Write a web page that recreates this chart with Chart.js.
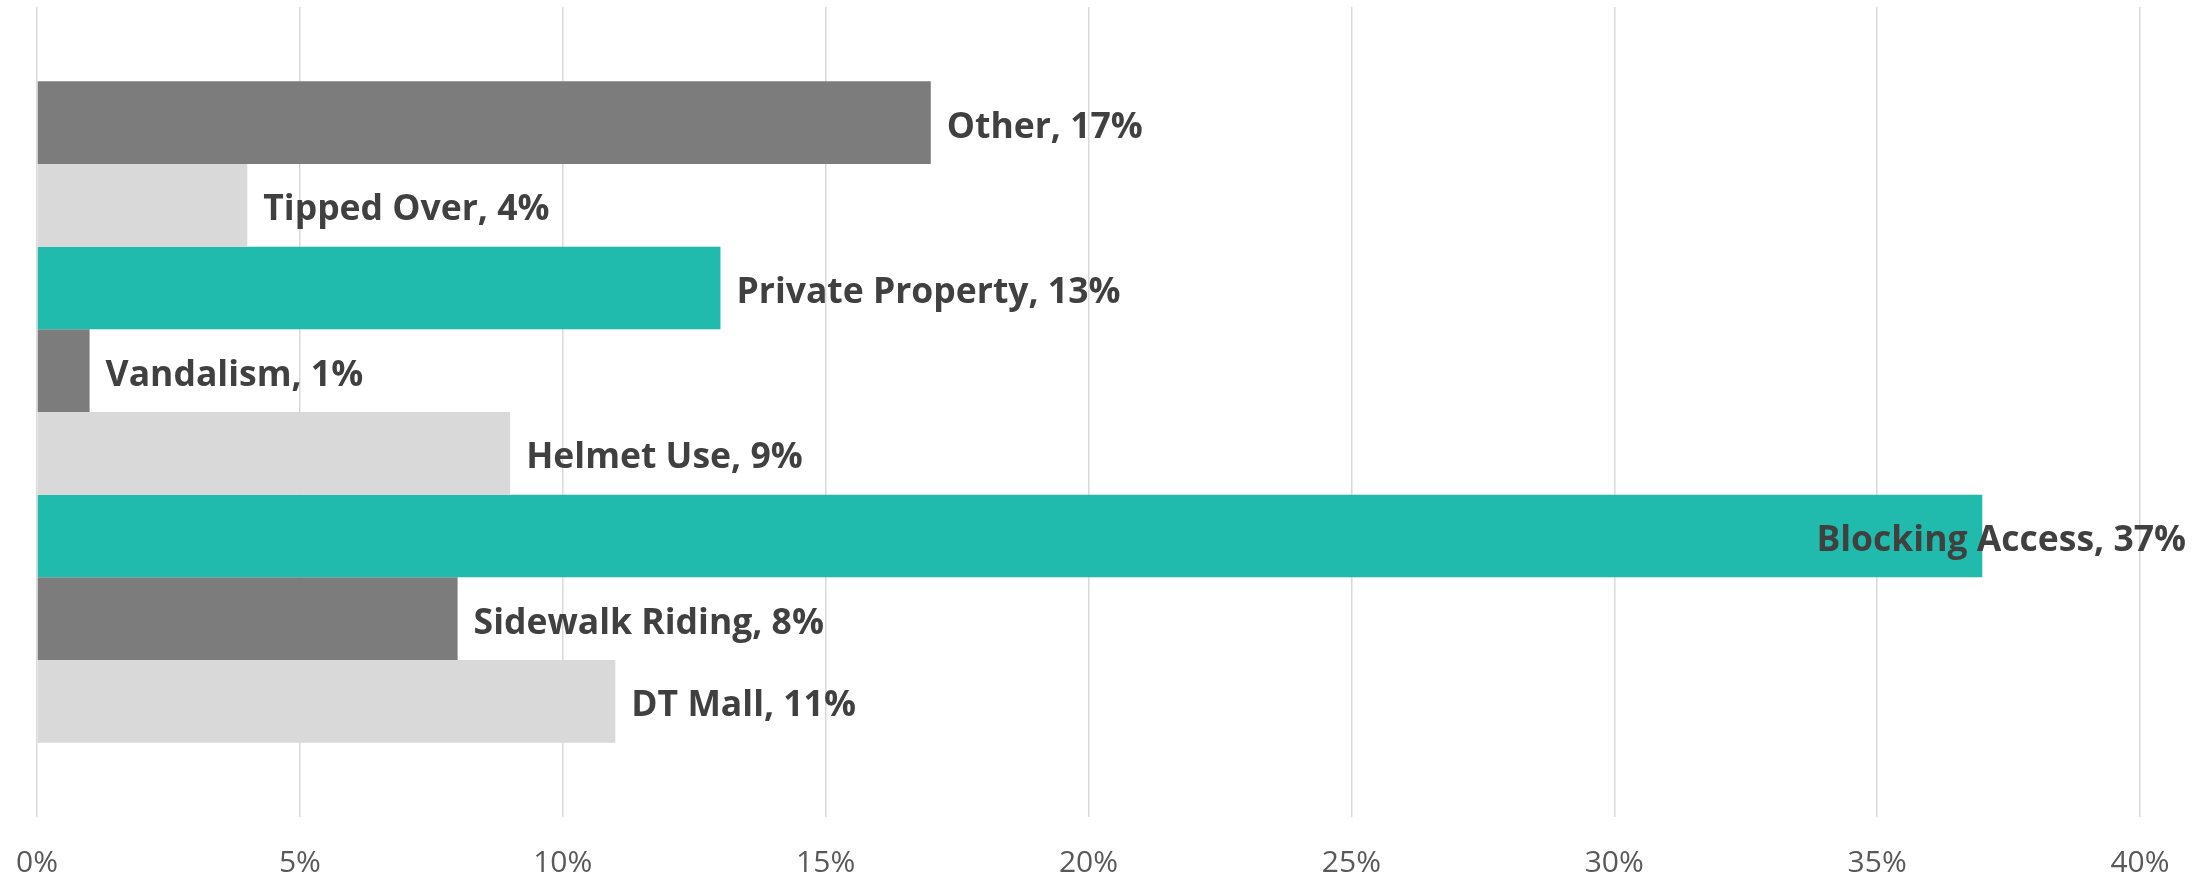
<!DOCTYPE html>
<html>
<head>
<meta charset="utf-8">
<style>
  html, body { margin: 0; padding: 0; background: #ffffff; }
  #wrap { width: 2210px; height: 879px; position: relative; }
</style>
<script src="https://cdn.jsdelivr.net/npm/chart.js@4.4.1/dist/chart.umd.min.js"></script>
</head>
<body>
<div id="wrap"><canvas id="c" width="2210" height="879"></canvas></div>
<script>
// ---- data ----
const categories = ['Other', 'Tipped Over', 'Private Property', 'Vandalism', 'Helmet Use', 'Blocking Access', 'Sidewalk Riding', 'DT Mall'];
const values = [17, 4, 13, 1, 9, 37, 8, 11];
const barColors = ['#7C7C7C', '#D9D9D9', '#21BBAD', '#7C7C7C', '#D9D9D9', '#21BBAD', '#7C7C7C', '#D9D9D9'];
const xTicks = [0, 5, 10, 15, 20, 25, 30, 35, 40];

const datasets = categories.map((name, i) => ({
  label: name,
  data: [values[i]],
  backgroundColor: barColors[i],
  borderWidth: 0,
  barPercentage: 1.0,
  categoryPercentage: 0.8166
}));

const labelPlugin = {
  id: 'barLabels',
  afterDatasetsDraw(chart) {
    const ctx = chart.ctx;
    ctx.save();
    ctx.font = 'bold 35.5px "Open Sans", "Noto Sans", sans-serif';
    ctx.fillStyle = '#404040';
    ctx.textBaseline = 'middle';
    ctx.textAlign = 'left';
    const rightLimit = chart.width - 24;
    chart.data.datasets.forEach((ds, i) => {
      const meta = chart.getDatasetMeta(i);
      const el = meta.data[0];
      if (!el) return;
      const text = categories[i] + ', ' + values[i] + '%';
      const w = ctx.measureText(text).width;
      let tx = el.x + 16;
      if (tx + w > rightLimit) tx = rightLimit - w;
      ctx.fillText(text, tx, el.y + 5);
    });
    ctx.restore();
  }
};

new Chart(document.getElementById('c'), {
  type: 'bar',
  data: { labels: [''], datasets },
  options: {
    indexAxis: 'y',
    responsive: false,
    animation: false,
    layout: { padding: { left: 37, right: 70, top: 7, bottom: -30 } },
    plugins: { legend: { display: false }, tooltip: { enabled: false } },
    scales: {
      y: { display: false },
      x: {
        min: xTicks[0],
        max: xTicks[xTicks.length - 1],
        afterBuildTicks(axis) { axis.ticks = xTicks.map(v => ({ value: v })); },
        afterFit(scale) { scale.paddingLeft = 0; scale.paddingRight = 0; },
        grid: { color: '#D9D9D9', lineWidth: 1.5, drawTicks: false },
        border: { display: false },
        ticks: {
          padding: 28,
          color: '#595959',
          font: { family: '"Open Sans", "Noto Sans", sans-serif', size: 30 },
          callback: v => v + '%'
        }
      }
    }
  },
  plugins: [labelPlugin]
});
</script>
</body>
</html>
